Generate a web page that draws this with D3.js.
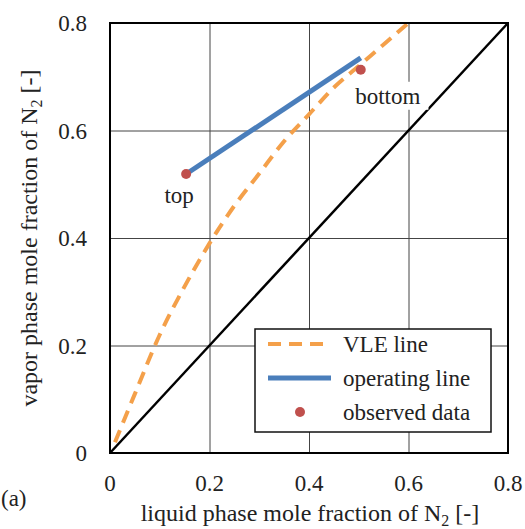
<!DOCTYPE html>
<html>
<head>
<meta charset="utf-8">
<script src="https://cdn.jsdelivr.net/npm/d3@7"></script>
<style>
  body { margin: 0; background: #fff; }
</style>
</head>
<body>
<svg width="525" height="529"></svg>
<script>
// VLE curve (liquid x, vapor y)
const vleX = [0.01, 0.05, 0.1, 0.15, 0.2, 0.25, 0.3, 0.35, 0.4, 0.45, 0.5, 0.55, 0.6];
const vleY = [0.02, 0.11, 0.22, 0.31, 0.39, 0.46, 0.52, 0.58, 0.63, 0.68, 0.72, 0.76, 0.80];
// operating line
const opX = [0.153, 0.504];
const opY = [0.519, 0.735];
// observed data
const obsX = [0.153, 0.504];
const obsY = [0.519, 0.713];
const obsLabels = ["top", "bottom"];
const ticks = [0, 0.2, 0.4, 0.6, 0.8];

let svg = d3.select("svg");
let plotLeft = 110, plotRight = 508, plotTop = 23, plotBottom = 453;
let fs = 23;
let ff = "Liberation Serif";

let xScale = d3.scaleLinear().domain([0, 0.8]).range([plotLeft, plotRight]);
let yScale = d3.scaleLinear().domain([0, 0.8]).range([plotBottom, plotTop]);

// grid
svg.append("g")
  .attr("transform", "translate(0," + plotBottom + ")")
  .call(d3.axisBottom(xScale).tickValues(ticks).tickSize(-(plotBottom - plotTop)).tickFormat(""))
  .call(g => g.select(".domain").remove())
  .selectAll("line").attr("stroke", "#444").attr("stroke-width", 1);
svg.append("g")
  .attr("transform", "translate(" + plotLeft + ",0)")
  .call(d3.axisLeft(yScale).tickValues(ticks).tickSize(-(plotRight - plotLeft)).tickFormat(""))
  .call(g => g.select(".domain").remove())
  .selectAll("line").attr("stroke", "#444").attr("stroke-width", 1);

// tick labels
svg.selectAll(".xt").data(ticks).enter().append("text")
  .attr("x", d => xScale(d)).attr("y", 491)
  .attr("text-anchor", "middle").attr("font-family", ff).attr("font-size", fs).attr("fill", "#222")
  .text(d => d === 0 ? "0" : d.toFixed(1));
svg.selectAll(".yt").data(ticks).enter().append("text")
  .attr("x", 87).attr("y", d => yScale(d) + 8)
  .attr("text-anchor", "end").attr("font-family", ff).attr("font-size", fs).attr("fill", "#222")
  .text(d => d === 0 ? "0" : d.toFixed(1));

// diagonal
svg.append("line")
  .attr("x1", xScale(0)).attr("y1", yScale(0))
  .attr("x2", xScale(0.8)).attr("y2", yScale(0.8))
  .attr("stroke", "#000").attr("stroke-width", 2.5);

// VLE line
let line = d3.line().x(d => xScale(d[0])).y(d => yScale(d[1])).curve(d3.curveMonotoneX);
svg.append("path")
  .datum(vleX.map((x, i) => [x, vleY[i]]))
  .attr("d", line)
  .attr("fill", "none").attr("stroke", "#f4a04a").attr("stroke-width", 4)
  .attr("stroke-dasharray", "13,8");

// operating line
svg.append("path")
  .datum(opX.map((x, i) => [x, opY[i]]))
  .attr("d", d3.line().x(d => xScale(d[0])).y(d => yScale(d[1])))
  .attr("fill", "none").attr("stroke", "#4a7ebb").attr("stroke-width", 5);

// observed points
svg.selectAll(".obs").data(obsX).enter().append("circle")
  .attr("cx", d => xScale(d)).attr("cy", (d, i) => yScale(obsY[i]))
  .attr("r", 5).attr("fill", "#c0504d");

// point labels
let labPos = [[-7, 29], [27, 34]];
obsLabels.forEach((t, i) => {
  let g = svg.append("g");
  let tx = g.append("text")
    .attr("x", xScale(obsX[i]) + labPos[i][0]).attr("y", yScale(obsY[i]) + labPos[i][1])
    .attr("text-anchor", "middle").attr("font-family", ff).attr("font-size", fs).attr("fill", "#222").text(t);
  let b = tx.node().getBBox();
  g.insert("rect", "text")
    .attr("x", b.x - 8).attr("y", b.y - 2).attr("width", b.width + 16).attr("height", b.height + 3)
    .attr("fill", "#fff");
});

// frame
svg.append("rect")
  .attr("x", plotLeft).attr("y", plotTop).attr("width", plotRight - plotLeft).attr("height", plotBottom - plotTop)
  .attr("fill", "none").attr("stroke", "#000").attr("stroke-width", 2);

// legend
let lg = svg.append("g");
lg.append("rect").attr("x", 255).attr("y", 329).attr("width", 236).attr("height", 103)
  .attr("fill", "#fff").attr("stroke", "#111").attr("stroke-width", 1.5);
let legY = [344, 378, 412];
lg.append("line").attr("x1", 268).attr("x2", 331).attr("y1", legY[0]).attr("y2", legY[0])
  .attr("stroke", "#f4a04a").attr("stroke-width", 4).attr("stroke-dasharray", "13,8");
lg.append("line").attr("x1", 268).attr("x2", 331).attr("y1", legY[1]).attr("y2", legY[1])
  .attr("stroke", "#4a7ebb").attr("stroke-width", 5);
lg.append("circle").attr("cx", 300).attr("cy", legY[2]).attr("r", 5).attr("fill", "#c0504d");
["VLE line", "operating line", "observed data"].forEach((t, i) => {
  lg.append("text").attr("x", 343).attr("y", legY[i] + 8)
    .attr("font-family", ff).attr("font-size", fs).attr("fill", "#222").text(t);
});

// axis titles
let xt = svg.append("text").attr("x", 310).attr("y", 521).attr("text-anchor", "middle")
  .attr("font-family", ff).attr("font-size", 24).attr("fill", "#222");
xt.append("tspan").text("liquid phase mole fraction of N");
xt.append("tspan").attr("font-size", 16).attr("dy", 5).text("2");
xt.append("tspan").attr("dy", -5).text(" [-]");

let yt = svg.append("text").attr("transform", "translate(37,238) rotate(-90)")
  .attr("text-anchor", "middle").attr("font-family", ff).attr("font-size", 24).attr("fill", "#222");
yt.append("tspan").text("vapor phase mole fraction of N");
yt.append("tspan").attr("font-size", 16).attr("dy", 5).text("2");
yt.append("tspan").attr("dy", -5).text(" [-]");

svg.append("text").attr("x", 1).attr("y", 506)
  .attr("font-family", ff).attr("font-size", fs).attr("fill", "#222").text("(a)");
</script>
</body>
</html>
